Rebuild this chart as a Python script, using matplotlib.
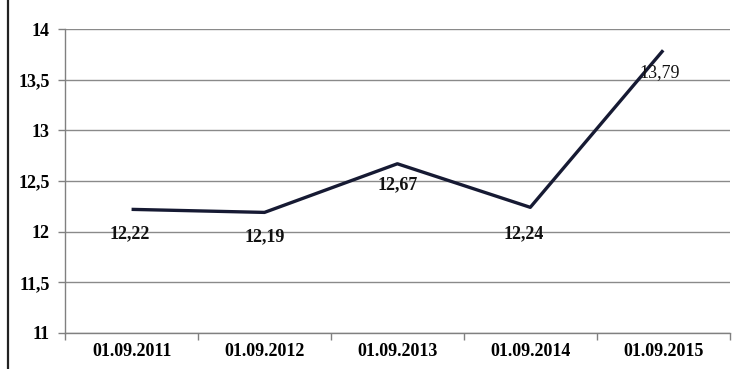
import matplotlib.pyplot as plt
from matplotlib.lines import Line2D
from matplotlib.ticker import FixedLocator, NullFormatter

dates = ['01.09.2011', '01.09.2012', '01.09.2013', '01.09.2014', '01.09.2015']
values = [12.22, 12.19, 12.67, 12.24, 13.79]
yticks = [11, 11.5, 12, 12.5, 13, 13.5, 14]

plt.rcParams['font.family'] = ['Liberation Serif', 'DejaVu Serif']

fig = plt.figure(figsize=(7.4, 3.69), dpi=100)
ax = fig.add_axes([0.088, 0.0976, 0.898, 0.8238])

x = list(range(len(dates)))
ax.plot(x, values, color='#161a33', linewidth=2.4, solid_capstyle='butt', zorder=3)

# value labels, mostly below the points (offsets in pixels)
offsets = [(-2, -24), (0, -24), (0, -21), (-7, -26), (-4, -22)]
weights = ['bold', 'bold', 'bold', 'bold', 'normal']
for xi, v, (dx, dy), w in zip(x, values, offsets, weights):
    txt = f'{v:.2f}'.replace('.', ',')
    ax.annotate(txt, (xi, v), xytext=(dx, dy), textcoords='offset pixels',
                ha='center', va='center', fontsize=13, fontweight=w,
                color='#111111', zorder=4)

ax.set_xlim(-0.5, 4.5)
ax.set_ylim(11, 14)
ax.set_yticks(yticks)
ax.set_yticklabels([f'{t:g}'.replace('.', ',') for t in yticks],
                   fontsize=13, fontweight='bold')
ax.set_xticks(x)
ax.set_xticklabels(dates, fontsize=13, fontweight='bold')
ax.tick_params(axis='x', which='major', length=0, pad=7)
ax.xaxis.set_minor_locator(FixedLocator([i - 0.5 for i in range(len(dates) + 1)]))
ax.xaxis.set_minor_formatter(NullFormatter())
ax.tick_params(axis='x', which='minor', length=5, color='#808080', width=1)
ax.tick_params(axis='y', length=5, color='#808080', width=1, pad=6)

ax.grid(axis='y', color='#8a8a8a', linewidth=1)
ax.set_axisbelow(True)
for side in ['top', 'right']:
    ax.spines[side].set_visible(False)
for side in ['left', 'bottom']:
    ax.spines[side].set_color('#808080')
    ax.spines[side].set_linewidth(1)

# dark border line on the left edge of the figure
fig.add_artist(Line2D([8 / 740, 8 / 740], [0, 1], color='#222222', linewidth=1.6,
                      transform=fig.transFigure))

fig.savefig('out.png', dpi=100)
